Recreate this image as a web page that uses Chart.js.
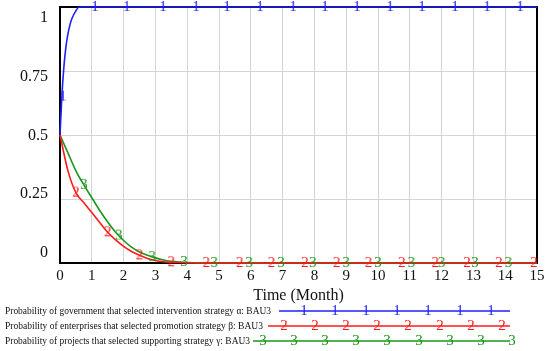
<!DOCTYPE html>
<html>
<head>
<meta charset="utf-8">
<script src="https://cdn.jsdelivr.net/npm/chart.js@4"></script>
<style>
html, body { margin: 0; padding: 0; background: #fff; }
</style>
</head>
<body>
<canvas id="chart" width="550" height="351"></canvas>
<script>
// time axis (months) and y tick labels
var xTickLabels = ['0','1','2','3','4','5','6','7','8','9','10','11','12','13','14','15'];
var yTickValues = [0, 0.25, 0.5, 0.75, 1];
var yTickLabels = ['0','0.25','0.5','0.75','1'];

// series
var govTime = [0, 0.0625, 0.125, 0.1875, 0.25, 0.3125, 0.375, 0.5, 0.6, 15];
var govProb = [0.5, 0.66, 0.77, 0.845, 0.895, 0.93, 0.955, 0.985, 1, 1];

var entTime = [0, 0.25, 0.5, 0.75, 1, 1.25, 1.5, 1.75, 2, 2.25, 2.5, 2.75, 3, 3.25, 3.5, 4, 5, 15];
var entProb = [0.5, 0.36, 0.275, 0.235, 0.197, 0.158, 0.12, 0.09, 0.065, 0.045, 0.03, 0.018, 0.01, 0.005, 0.003, 0.001, 0, 0];

var proTime = [0, 0.25, 0.5, 0.75, 1, 1.25, 1.5, 1.75, 2, 2.25, 2.5, 2.75, 3, 3.25, 3.5, 3.75, 4, 5, 15];
var proProb = [0.5, 0.43, 0.36, 0.305, 0.255, 0.205, 0.16, 0.12, 0.088, 0.062, 0.043, 0.03, 0.02, 0.012, 0.007, 0.004, 0.002, 0, 0];

// numbered markers along each line
var govMarkT = [0.09, 1.1, 2.1, 3.24, 4.28, 5.25, 6.29, 7.33, 8.33, 9.34, 10.38, 11.38, 12.42, 13.43, 14.47];
var govMarkP = [0.65, 1, 1, 1, 1, 1, 1, 1, 1, 1, 1, 1, 1, 1, 1];
var entMarkT = [0.5, 1.5, 2.5, 3.5, 4.6, 5.65, 6.65, 7.7, 8.7, 9.7, 10.75, 11.8, 12.8, 13.8, 14.9];
var entMarkP = [0.275, 0.12, 0.03, 0.003, 0, 0, 0, 0, 0, 0, 0, 0, 0, 0, 0];
var proMarkT = [0.75, 1.85, 2.9, 3.9, 4.85, 5.95, 6.95, 7.95, 9.0, 10.0, 11.05, 12.0, 13.05, 14.1];
var proMarkP = [0.305, 0.107, 0.023, 0.004, 0, 0, 0, 0, 0, 0, 0, 0, 0, 0];

var seriesNames = [
    'Probability of government that selected intervention strategy \u03b1: BAU3',
    'Probability of enterprises that selected promotion strategy \u03b2: BAU3',
    'Probability of projects that selected supporting strategy \u03b3: BAU3'
];

var BLUE = '#1f1fff', RED = '#ff1a1a', GREEN = '#1a961a';
var SERIF = '"Liberation Serif", "Times New Roman", serif';

function pts(xs, ys) {
    return xs.map(function(x, i) { return { x: x, y: ys[i] }; });
}

function digitImage(d, color) {
    var c = document.createElement('canvas');
    c.width = 12; c.height = 16;
    var g = c.getContext('2d');
    g.fillStyle = color;
    g.font = '15px ' + SERIF;
    g.textAlign = 'center';
    g.textBaseline = 'middle';
    g.fillText(d, 6, 8.5);
    return c;
}

var marks = [digitImage('1', BLUE), digitImage('2', RED), digitImage('3', GREEN)];

function lineSet(data, color, order) {
    return {
        data: data, showLine: true, borderColor: color, borderWidth: 1.6, pointRadius: 0,
        fill: false, cubicInterpolationMode: 'monotone', clip: false, order: order
    };
}

function markSet(data, img) {
    return {
        data: data, showLine: false, pointStyle: img, pointRadius: 6,
        clip: false, order: 0
    };
}

// black frame around the plot
var framePlugin = {
    id: 'frame',
    beforeDatasetsDraw: function(chart) {
        var a = chart.chartArea, ctx = chart.ctx;
        ctx.save();
        ctx.strokeStyle = '#000';
        ctx.lineWidth = 2;
        ctx.strokeRect(a.left, a.top, a.right - a.left, a.bottom - a.top);
        ctx.restore();
    }
};

// legend at the bottom, drawn like the original
var legendPlugin = {
    id: 'bottomLegend',
    afterDraw: function(chart) {
        var ctx = chart.ctx;
        var colors = [BLUE, RED, GREEN];
        var rows = [
            { y: 311, textW: 266, lineX: 279, firstMark: 304 },
            { y: 326, textW: 258, lineX: 268, firstMark: 284 },
            { y: 341, textW: 245, lineX: 253, firstMark: 263 }
        ];
        ctx.save();
        rows.forEach(function(r, i) {
            ctx.fillStyle = '#111';
            ctx.font = '11px ' + SERIF;
            ctx.textAlign = 'left';
            ctx.textBaseline = 'middle';
            ctx.fillText(seriesNames[i], 5, r.y, r.textW);
            ctx.strokeStyle = colors[i];
            ctx.lineWidth = 1.5;
            ctx.beginPath();
            ctx.moveTo(r.lineX, r.y);
            ctx.lineTo(510, r.y);
            ctx.stroke();
            for (var mx = r.firstMark; mx <= 513; mx += 31.1) {
                ctx.drawImage(marks[i], Math.round(mx - 6), r.y - 8);
            }
        });
        ctx.restore();
    }
};

function setTicks(s) {
    s.ticks = yTickValues.map(function(v) { return { value: v }; });
}

new Chart(document.getElementById('chart').getContext('2d'), {
    type: 'scatter',
    data: {
        datasets: [
            lineSet(pts(govTime, govProb), BLUE, 1),
            lineSet(pts(entTime, entProb), RED, 2),
            lineSet(pts(proTime, proProb), GREEN, 3),
            markSet(pts(govMarkT, govMarkP), marks[0]),
            markSet(pts(entMarkT, entMarkP), marks[1]),
            markSet(pts(proMarkT, proMarkP), marks[2])
        ]
    },
    options: {
        responsive: false,
        animation: false,
        events: [],
        layout: { padding: { left: 0, right: 13, top: 7, bottom: 46 } },
        plugins: { legend: { display: false }, tooltip: { enabled: false } },
        scales: {
            x: {
                type: 'linear', min: 0, max: 15,
                afterFit: function(s) { s.height = 42; s.paddingLeft = 0; s.paddingRight = 0; },
                grid: { color: '#d4d4d4', lineWidth: 1, drawTicks: false },
                border: { display: false },
                ticks: {
                    stepSize: 1, padding: 4, color: '#111',
                    font: { family: SERIF, size: 15 },
                    callback: function(v) { return xTickLabels[v]; }
                },
                title: {
                    display: true, text: 'Time (Month)', color: '#111',
                    font: { family: SERIF, size: 16 },
                    padding: { top: 0, bottom: 0 }
                }
            },
            // grid axis
            y: {
                min: 0, max: 1,
                afterBuildTicks: setTicks,
                afterFit: function(s) { s.width = 0; s.paddingTop = 0; s.paddingBottom = 0; },
                grid: { color: '#d4d4d4', lineWidth: 1, drawTicks: false },
                border: { display: false },
                ticks: { display: false }
            },
            // label axis: Vensim spaces the labels a little tighter than the grid
            yLabels: {
                position: 'left',
                min: -0.0426, max: 1.0468,
                afterBuildTicks: setTicks,
                afterFit: function(s) { s.width = 60; s.paddingTop = 0; s.paddingBottom = 0; },
                grid: { display: false, drawTicks: false },
                border: { display: false },
                ticks: {
                    padding: 12, color: '#111',
                    font: { family: SERIF, size: 16 },
                    callback: function(v) { return yTickLabels[Math.round(v * 4)]; }
                }
            }
        }
    },
    plugins: [framePlugin, legendPlugin]
});
</script>
</body>
</html>
